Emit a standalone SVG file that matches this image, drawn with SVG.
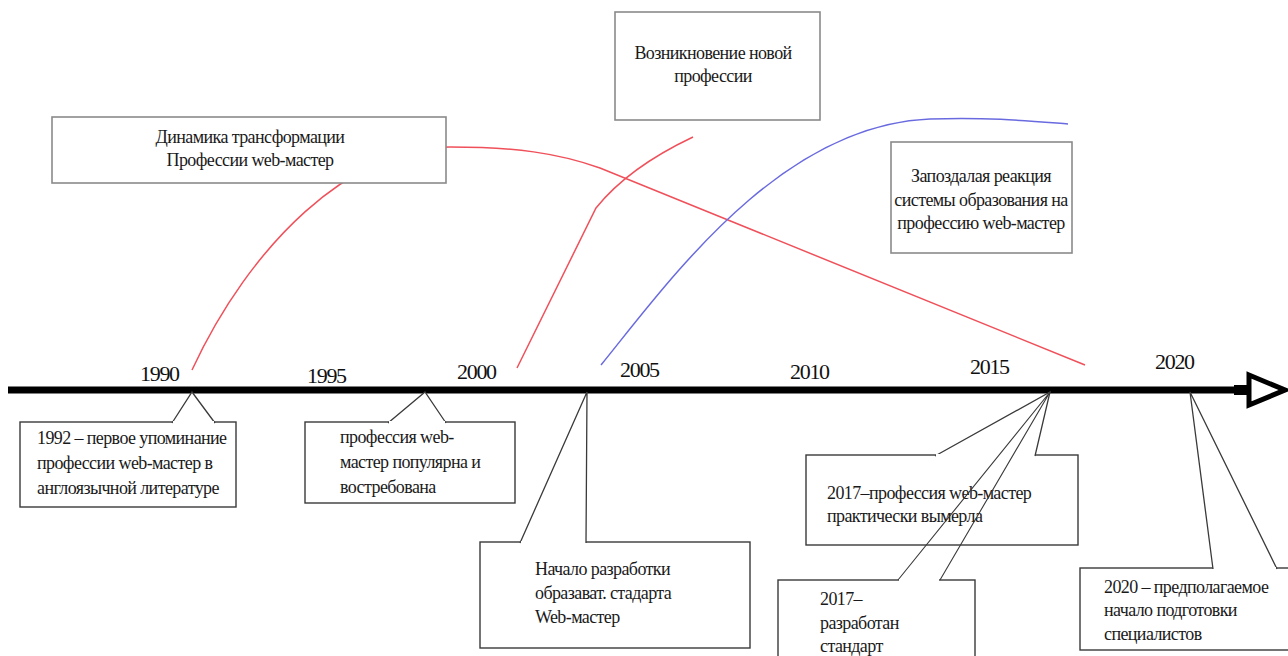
<svg xmlns="http://www.w3.org/2000/svg" width="1288" height="656" viewBox="0 0 1288 656">
<style>
.t{font-family:"Liberation Serif","Times New Roman",serif;font-size:18px;letter-spacing:-0.6px;fill:#1a1a1a}
.c{text-anchor:middle}
.y{font-family:"Liberation Serif","Times New Roman",serif;font-size:22px;letter-spacing:-1.3px;fill:#111}
.box{fill:#fff;stroke:#3a3a3a;stroke-width:1.4}
.tbox{fill:#fff;stroke:#8a8a8a;stroke-width:1.6}
.red{fill:none;stroke:#f0505a;stroke-width:1.5}
.blue{fill:none;stroke:#6a6ae0;stroke-width:1.5}
</style>
<rect width="1288" height="656" fill="#fff"/>
<g id="curves">
<path class="red" d="M192,370 C250,245 350,147 450,147 C515,147 558,153 600,168 L1085,365"/>
<path class="red" d="M517,368 L596,208 C620,178 655,155 693,137"/>
<path class="blue" d="M601,365 C670,280 780,125 930,119 C990,117 1030,121 1068,124"/>
</g>
<g id="timeline">
<line x1="8" y1="390" x2="1240" y2="390" stroke="#000" stroke-width="7"/>
<rect x="1234" y="385" width="14" height="10" fill="#000"/>
<path d="M1249,375 L1285,390 L1249,405 Z" fill="#fff" stroke="#000" stroke-width="5" stroke-linejoin="miter"/>
<text class="y" x="140" y="381">1990</text>
<text class="y" x="307" y="383">1995</text>
<text class="y" x="457" y="379">2000</text>
<text class="y" x="620" y="377">2005</text>
<text class="y" x="790" y="379">2010</text>
<text class="y" x="970" y="374">2015</text>
<text class="y" x="1155" y="369">2020</text>
</g>
<g id="title">
<rect class="tbox" x="52" y="117" width="394" height="66"/>
<text class="t c" x="250" y="143">Динамика трансформации</text>
<text class="t c" x="250" y="166">Профессии web-мастер</text>
</g>
<g id="new-profession">
<rect class="tbox" x="615" y="12" width="205" height="108"/>
<text class="t c" x="713" y="59">Возникновение новой</text>
<text class="t c" x="713" y="82">профессии</text>
</g>
<g id="late-reaction">
<rect class="tbox" x="891" y="142" width="181" height="111"/>
<text class="t c" x="981" y="182">Запоздалая реакция</text>
<text class="t c" x="981" y="206">системы образования на</text>
<text class="t c" x="981" y="229">профессию web-мастер</text>
</g>
<g id="c1992">
<rect class="box" x="20" y="422" width="216" height="85"/>
<path d="M172,423 L192,392 L215,423" fill="#fff" stroke="#3a3a3a" stroke-width="1.3"/>
<line x1="173" y1="422" x2="214" y2="422" stroke="#fff" stroke-width="2"/>
<text class="t" x="37" y="444">1992 – первое упоминание</text>
<text class="t" x="37" y="469">профессии web-мастер в</text>
<text class="t" x="37" y="494">англоязычной литературе</text>
</g>
<g id="c1998">
<rect class="box" x="305" y="422" width="210" height="81"/>
<path d="M388,423 L425,392 L446,423" fill="#fff" stroke="#3a3a3a" stroke-width="1.3"/>
<line x1="389" y1="422" x2="445" y2="422" stroke="#fff" stroke-width="2"/>
<text class="t" x="340" y="443">профессия web-</text>
<text class="t" x="340" y="468">мастер популярна и</text>
<text class="t" x="340" y="493">востребована</text>
</g>
<g id="c2004">
<rect class="box" x="480" y="542" width="270" height="106"/>
<path d="M520,543 L587,392 L586,543" fill="#fff" stroke="#3a3a3a" stroke-width="1.3"/>
<line x1="521" y1="542" x2="585" y2="542" stroke="#fff" stroke-width="2"/>
<text class="t" x="535" y="575">Начало разработки</text>
<text class="t" x="535" y="599">образават. стадарта</text>
<text class="t" x="535" y="623">Web-мастер</text>
</g>
<g id="c2017a">
<rect class="box" x="806" y="455" width="272" height="90"/>
<path d="M935,456 L1050,392 L1035,456" fill="#fff" stroke="#3a3a3a" stroke-width="1.3"/>
<line x1="936" y1="455" x2="1034" y2="455" stroke="#fff" stroke-width="2"/>
<text class="t" x="827" y="499">2017–профессия web-мастер</text>
<text class="t" x="827" y="522">практически вымерла</text>
</g>
<g id="c2017b">
<rect class="box" x="778" y="580" width="197" height="80"/>
<path d="M898,580 L1050,392 L940,580" fill="none" stroke="#3a3a3a" stroke-width="1.1"/>
<line x1="899" y1="580" x2="939" y2="580" stroke="#fff" stroke-width="2"/>
<text class="t" x="820" y="605">2017–</text>
<text class="t" x="820" y="629">разработан</text>
<text class="t" x="820" y="652">стандарт</text>
</g>
<g id="c2020">
<rect class="box" x="1080" y="568" width="220" height="82"/>
<path d="M1213,569 L1190,392 L1277,569" fill="#fff" stroke="#3a3a3a" stroke-width="1.3"/>
<line x1="1214" y1="568" x2="1276" y2="568" stroke="#fff" stroke-width="2"/>
<text class="t" x="1104" y="593">2020 – предполагаемое</text>
<text class="t" x="1104" y="616">начало подготовки</text>
<text class="t" x="1104" y="640">специалистов</text>
</g>
</svg>
